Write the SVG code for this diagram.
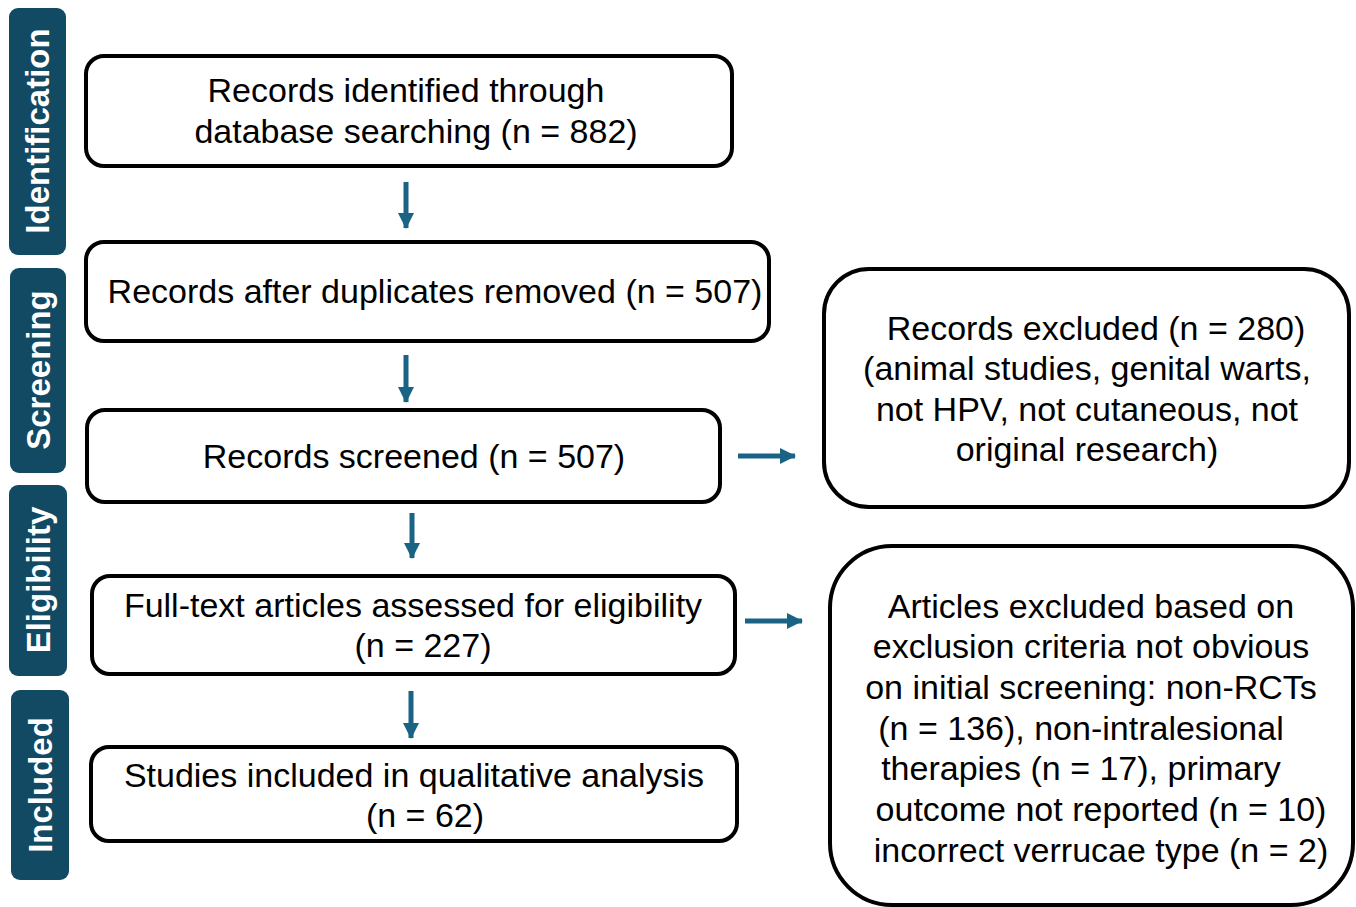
<svg xmlns="http://www.w3.org/2000/svg" width="1356" height="907" viewBox="0 0 1356 907">
<style>
.bar{fill:#124a63}
.bt{fill:#fff;font-family:"Liberation Sans",Arial,sans-serif;font-weight:bold;font-size:33px;text-anchor:middle}
.box{fill:#fff;stroke:#000;stroke-width:4}
.t{fill:#000;font-family:"Liberation Sans",Arial,sans-serif;font-size:34px;text-anchor:middle}
.c{stroke:#1a6384;stroke-width:5;fill:none}
</style>
<defs>
<marker id="ah" markerUnits="userSpaceOnUse" markerWidth="18" markerHeight="18" refX="15" refY="9" orient="auto" viewBox="0 0 18 18">
<path d="M0,1 L16,9 L0,17 Z" fill="#1a6384"/>
</marker>
</defs>
<rect width="1356" height="907" fill="#fff"/>
<g id="stage-identification"><rect class="bar" x="9" y="8" width="57" height="247" rx="9"/><text class="bt" transform="translate(49,131) rotate(-90)">Identification</text></g>
<g id="stage-screening"><rect class="bar" x="10" y="268" width="56" height="205" rx="9"/><text class="bt" transform="translate(50,370) rotate(-90)">Screening</text></g>
<g id="stage-eligibility"><rect class="bar" x="9" y="485" width="58" height="191" rx="9"/><text class="bt" transform="translate(50,580) rotate(-90)">Eligibility</text></g>
<g id="stage-included"><rect class="bar" x="11" y="690" width="58" height="190" rx="9"/><text class="bt" transform="translate(52,785) rotate(-90)">Included</text></g>

<g id="n1"><rect class="box" x="86" y="56" width="646" height="110" rx="18"/><text class="t" x="406" y="102">Records identified through</text><text class="t" x="416" y="143">database searching (n = 882)</text></g>
<g id="n2"><rect class="box" x="86" y="242" width="683" height="99" rx="18"/><text class="t" x="435" y="303">Records after duplicates removed (n = 507)</text></g>
<g id="n3"><rect class="box" x="87" y="410" width="633" height="92" rx="18"/><text class="t" x="414" y="468">Records screened (n = 507)</text></g>
<g id="n4"><rect class="box" x="92" y="576" width="643" height="98" rx="18"/><text class="t" x="413" y="617">Full-text articles assessed for eligibility</text><text class="t" x="423" y="657">(n = 227)</text></g>
<g id="n5"><rect class="box" x="91" y="747" width="646" height="94" rx="18"/><text class="t" x="414" y="787">Studies included in qualitative analysis</text><text class="t" x="425" y="827">(n = 62)</text></g>
<g id="x1"><rect class="box" x="824" y="269" width="525" height="238" rx="45"/><text class="t" x="1096" y="340">Records excluded (n = 280)</text><text class="t" x="1087" y="380">(animal studies, genital warts,</text><text class="t" x="1087" y="421">not HPV, not cutaneous, not</text><text class="t" x="1087" y="461">original research)</text></g>
<g id="x2"><rect class="box" x="830" y="546" width="523" height="359" rx="62"/><text class="t" x="1091" y="618">Articles excluded based on</text><text class="t" x="1091" y="658">exclusion criteria not obvious</text><text class="t" x="1091" y="699">on initial screening: non-RCTs</text><text class="t" x="1081" y="740">(n = 136), non-intralesional</text><text class="t" x="1081" y="780">therapies (n = 17), primary</text><text class="t" x="1101" y="821">outcome not reported (n = 10)</text><text class="t" x="1101" y="862">incorrect verrucae type (n = 2)</text></g>

<g id="connectors">
<line class="c" x1="406" y1="182" x2="406" y2="228" marker-end="url(#ah)"/>
<line class="c" x1="406" y1="355" x2="406" y2="402" marker-end="url(#ah)"/>
<line class="c" x1="412" y1="513" x2="412" y2="558" marker-end="url(#ah)"/>
<line class="c" x1="411" y1="691" x2="411" y2="738" marker-end="url(#ah)"/>
<line class="c" x1="738" y1="456" x2="795" y2="456" marker-end="url(#ah)"/>
<line class="c" x1="745" y1="621" x2="802" y2="621" marker-end="url(#ah)"/>
</g>
</svg>
